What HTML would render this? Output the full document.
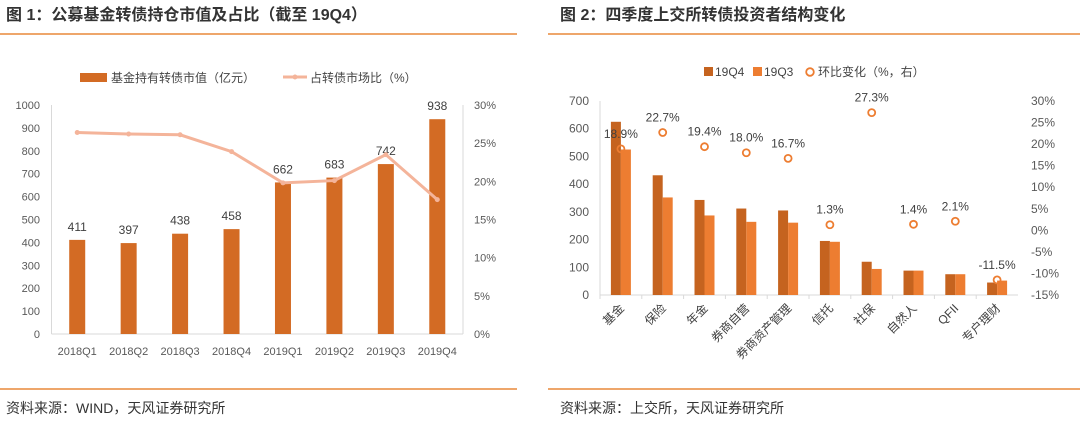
<!DOCTYPE html>
<html><head><meta charset="utf-8"><style>
body{margin:0;width:1080px;height:426px;background:#fff;overflow:hidden;font-family:"Liberation Sans","Noto Sans CJK SC",sans-serif}
svg text{font-family:"Liberation Sans","Noto Sans CJK SC",sans-serif}
</style></head><body>
<svg id="s" width="1080" height="426">
<text x="6" y="20" font-size="16" font-weight="bold" fill="#333">图 1：公募基金转债持仓市值及占比（截至 19Q4）</text>
<line x1="0" y1="34" x2="517" y2="34" stroke="#e8893a" stroke-width="1.5"/>
<text x="560" y="20" font-size="16" font-weight="bold" fill="#333">图 2：四季度上交所转债投资者结构变化</text>
<line x1="548" y1="34" x2="1080" y2="34" stroke="#e8893a" stroke-width="1.5"/>
<line x1="0" y1="389" x2="517" y2="389" stroke="#e8893a" stroke-width="1.5"/>
<line x1="548" y1="389" x2="1080" y2="389" stroke="#e8893a" stroke-width="1.5"/>
<text x="6" y="413" font-size="14" fill="#333">资料来源：WIND，天风证券研究所</text>
<text x="560" y="413" font-size="14" fill="#333">资料来源：上交所，天风证券研究所</text>
<!-- legend 1 -->
<rect x="80" y="73" width="27" height="9" fill="#d36b24"/>
<text x="111" y="82" font-size="12" fill="#444">基金持有转债市值（亿元）</text>
<line x1="283" y1="77" x2="307" y2="77" stroke="#f4b49a" stroke-width="3"/>
<circle cx="295" cy="77" r="2.5" fill="#f4b49a"/>
<text x="310" y="82" font-size="12" fill="#444">占转债市场比（%）</text>
<!-- legend 2 -->
<rect x="704" y="67" width="9" height="9" fill="#c5631f"/>
<text x="715" y="76" font-size="12" fill="#444">19Q4</text>
<rect x="753" y="67" width="9" height="9" fill="#ed7d31"/>
<text x="764" y="76" font-size="12" fill="#444">19Q3</text>
<circle cx="810" cy="72" r="3.8" fill="none" stroke="#ed7d31" stroke-width="1.8"/>
<text x="818" y="76" font-size="12" fill="#444">环比变化（%，右）</text>
<g id="c1"></g><g id="c2"></g>
</svg>
<script>
const c1Cats=["2018Q1","2018Q2","2018Q3","2018Q4","2019Q1","2019Q2","2019Q3","2019Q4"];
const c1Bars=[411,397,438,458,662,683,742,938];
const c1Share=[26.4,26.2,26.1,23.9,19.8,20.1,23.5,17.6];
const c1LeftTicks=[0,100,200,300,400,500,600,700,800,900,1000];
const c1RightTicks=[0,5,10,15,20,25,30];
const c2Cats=["基金","保险","年金","券商自营","券商资产管理","信托","社保","自然人","QFII","专户理财"];
const c2Q4=[625,432,343,312,305,195,120,88,75,45];
const c2Q3=[525,352,287,264,261,192,94,88,75,52];
const c2Chg=[18.9,22.7,19.4,18.0,16.7,1.3,27.3,1.4,2.1,-11.5];
const c2LeftTicks=[0,100,200,300,400,500,600,700];
const c2RightTicks=[-15,-10,-5,0,5,10,15,20,25,30];
const NS="http://www.w3.org/2000/svg";
function mk(p,t,a,txt){const e=document.createElementNS(NS,t);for(const k in a)e.setAttribute(k,a[k]);if(txt!==undefined)e.textContent=txt;p.appendChild(e);return e;}
// chart1
(function(){
const g=document.getElementById('c1');
const x0=51.5,x1=463,yT=105,yB=334;
const ly=v=>yB-(v/1000)*(yB-yT), ry=v=>yB-(v/30)*(yB-yT);
const bw=(x1-x0)/c1Cats.length, cx=i=>x0+bw*(i+0.5);
mk(g,'line',{x1:x0,y1:yB,x2:x1,y2:yB,stroke:'#d9d9d9'});
mk(g,'line',{x1:x0,y1:yT,x2:x0,y2:yB,stroke:'#d9d9d9'});
mk(g,'line',{x1:x1,y1:yT,x2:x1,y2:yB,stroke:'#d9d9d9'});
c1LeftTicks.forEach(v=>{const t=mk(g,'text',{x:40,y:ly(v)+4,'font-size':11,fill:'#595959','text-anchor':'end'},v);

});
c1RightTicks.forEach(v=>{const t=mk(g,'text',{x:474,y:ry(v)+4,'font-size':11,fill:'#595959'},v+'%');

});
c1Cats.forEach((c,i)=>{
const b=mk(g,'rect',{x:cx(i)-8,y:ly(c1Bars[i]),width:16,height:yB-ly(c1Bars[i]),fill:'#d36b24'});


const l=mk(g,'text',{x:cx(i),y:ly(c1Bars[i])-9,'font-size':12,fill:'#404040','text-anchor':'middle'},c1Bars[i]);


const t=mk(g,'text',{x:cx(i),y:yB+21,'font-size':11,fill:'#595959','text-anchor':'middle'},c);


});
const pl=mk(g,'polyline',{points:c1Share.map((v,i)=>cx(i)+','+ry(v)).join(' '),fill:'none',stroke:'#f4b49a','stroke-width':3});


c1Share.forEach((v,i)=>{const p=mk(g,'circle',{cx:cx(i),cy:ry(v),r:2.5,fill:'#f4b49a'});

});
})();
// chart2
(function(){
const g=document.getElementById('c2');
const x0=600,x1=1018,yT=101,yB=295;
const ly=v=>yB-(v/700)*(yB-yT), ry=v=>yB-((v+15)/45)*(yB-yT);
const bw=(x1-x0)/c2Cats.length, cx=i=>x0+bw*(i+0.5);
mk(g,'line',{x1:x0,y1:yB,x2:x1,y2:yB,stroke:'#d9d9d9'});
mk(g,'line',{x1:x0,y1:yT,x2:x0,y2:yB,stroke:'#d9d9d9'});
c2LeftTicks.forEach(v=>{const t=mk(g,'text',{x:589,y:ly(v)+4,'font-size':12,fill:'#595959','text-anchor':'end'},v);

});
c2RightTicks.forEach(v=>{const t=mk(g,'text',{x:1031,y:ry(v)+4,'font-size':12,fill:'#595959'},v+'%');

});
c2Cats.forEach((c,i)=>{
mk(g,'line',{x1:x0+bw*i,y1:yB,x2:x0+bw*i,y2:yB+4,stroke:'#d9d9d9'});
const a=mk(g,'rect',{x:cx(i)-10,y:ly(c2Q4[i]),width:10,height:yB-ly(c2Q4[i]),fill:'#c5631f'});


const b=mk(g,'rect',{x:cx(i),y:ly(c2Q3[i]),width:10,height:yB-ly(c2Q3[i]),fill:'#ed7d31'});


const t=mk(g,'text',{x:0,y:0,'font-size':12,fill:'#404040','text-anchor':'end',transform:`translate(${cx(i)+4},${yB+14}) rotate(-45)`},c);


});
c2Chg.forEach((v,i)=>{
const p=mk(g,'circle',{cx:cx(i),cy:ry(v),r:3.5,fill:'none',stroke:'#ed7d31','stroke-width':1.8});


const l=mk(g,'text',{x:cx(i),y:ry(v)-11,'font-size':12,fill:'#404040','text-anchor':'middle'},v.toFixed(1)+'%');


});
})();
</script>
</body></html>
